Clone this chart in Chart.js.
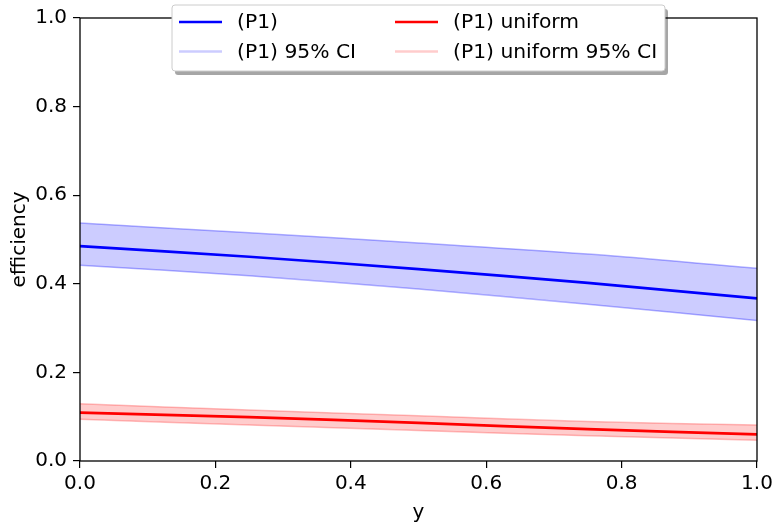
<!DOCTYPE html>
<html>
<head>
<meta charset="utf-8">
<script src="https://cdn.jsdelivr.net/npm/chart.js@4"></script>
<style>
  html, body { margin: 0; padding: 0; background: #fff; }
  #wrap { width: 772px; height: 525px; }
</style>
</head>
<body>
<div id="wrap"><canvas id="effChart"></canvas></div>
<script>
const xValues = [0, 0.25, 0.5, 0.75, 1.0];

const p1Mean  = [0.485, 0.461, 0.433, 0.402, 0.367];
const p1Upper = [0.537, 0.515, 0.492, 0.467, 0.435];
const p1Lower = [0.442, 0.418, 0.388, 0.354, 0.317];

const uniMean  = [0.109, 0.099, 0.086, 0.072, 0.060];
const uniUpper = [0.129, 0.115, 0.102, 0.089, 0.081];
const uniLower = [0.094, 0.081, 0.069, 0.057, 0.047];

const legendLabels = ['(P1)', '(P1) uniform', '(P1) 95% CI', '(P1) uniform 95% CI'];
const FONT = 'DejaVu Sans';
const FSIZE = 20;

function pts(arr) {
    return arr.map((v, i) => ({ x: xValues[i], y: v }));
}

const frameAndText = {
    id: 'frameAndText',
    afterDraw(chart) {
        const c = chart.ctx;
        const a = chart.chartArea;
        c.save();
        // spines
        c.strokeStyle = '#000';
        c.lineWidth = 1.3;
        c.strokeRect(a.left, a.top, a.right - a.left, a.bottom - a.top);

        // axis titles
        c.fillStyle = '#000';
        c.font = FSIZE + 'px "' + FONT + '"';
        c.textAlign = 'center';
        c.textBaseline = 'alphabetic';
        c.fillText('y', (a.left + a.right) / 2, 518);
        c.translate(25, (a.top + a.bottom) / 2);
        c.rotate(-Math.PI / 2);
        c.fillText('efficiency', 0, 0);
        c.restore();

        // legend
        c.save();
        const bx = 172, by = 5, bw = 493, bh = 66;
        c.fillStyle = 'rgba(0,0,0,0.35)';
        c.beginPath();
        c.roundRect(bx + 3, by + 4, bw, bh, 3);
        c.fill();
        c.fillStyle = '#fff';
        c.strokeStyle = '#cccccc';
        c.lineWidth = 1;
        c.beginPath();
        c.roundRect(bx, by, bw, bh, 3);
        c.fill();
        c.stroke();

        const items = [
            { t: legendLabels[0], col: '#0000ff', x: 179, y: 22 },
            { t: legendLabels[1], col: '#ff0000', x: 395, y: 22 },
            { t: legendLabels[2], col: 'rgba(0,0,255,0.2)', x: 179, y: 51.5 },
            { t: legendLabels[3], col: 'rgba(255,0,0,0.2)', x: 395, y: 51.5 }
        ];
        c.font = '20.3px "' + FONT + '"';
        c.textAlign = 'left';
        c.textBaseline = 'middle';
        items.forEach(it => {
            c.strokeStyle = it.col;
            c.lineWidth = 2.7;
            c.beginPath();
            c.moveTo(it.x, it.y);
            c.lineTo(it.x + 43, it.y);
            c.stroke();
            c.fillStyle = '#000';
            c.fillText(it.t, it.x + 58, it.y + 1);
        });
        c.restore();
    }
};

new Chart(document.getElementById('effChart'), {
    type: 'line',
    data: {
        datasets: [
            {
                label: '(P1) 95% CI upper',
                data: pts(p1Upper),
                borderColor: 'rgba(0,0,255,0.3)',
                backgroundColor: 'rgba(0,0,255,0.2)',
                borderWidth: 1.5,
                fill: 1,
                pointRadius: 0,
                tension: 0.4
            },
            {
                label: '(P1) 95% CI lower',
                data: pts(p1Lower),
                borderColor: 'rgba(0,0,255,0.3)',
                borderWidth: 1.5,
                fill: false,
                pointRadius: 0,
                tension: 0.4
            },
            {
                label: '(P1) uniform 95% CI upper',
                data: pts(uniUpper),
                borderColor: 'rgba(255,0,0,0.25)',
                backgroundColor: 'rgba(255,0,0,0.2)',
                borderWidth: 1.5,
                fill: 3,
                pointRadius: 0,
                tension: 0.4
            },
            {
                label: '(P1) uniform 95% CI lower',
                data: pts(uniLower),
                borderColor: 'rgba(255,0,0,0.25)',
                borderWidth: 1.5,
                fill: false,
                pointRadius: 0,
                tension: 0.4
            },
            {
                label: '(P1)',
                data: pts(p1Mean),
                borderColor: '#0000ff',
                borderWidth: 2.7,
                fill: false,
                pointRadius: 0,
                tension: 0.4
            },
            {
                label: '(P1) uniform',
                data: pts(uniMean),
                borderColor: '#ff0000',
                borderWidth: 2.7,
                fill: false,
                pointRadius: 0,
                tension: 0.4
            }
        ]
    },
    options: {
        responsive: true,
        maintainAspectRatio: false,
        animation: false,
        layout: { padding: { left: 0, right: 15, top: 18, bottom: 0 } },
        plugins: {
            legend: { display: false },
            tooltip: { enabled: false }
        },
        scales: {
            x: {
                type: 'linear',
                min: 0,
                max: 1,
                grid: { drawOnChartArea: false, drawTicks: true, tickLength: 7, color: '#000', lineWidth: 1.2 },
                border: { display: false },
                ticks: {
                    stepSize: 0.2,
                    color: '#000',
                    padding: 4,
                    font: { family: FONT, size: FSIZE },
                    maxRotation: 0,
                    callback: v => v.toFixed(1)
                },
                afterFit: s => { s.height = 64; s.paddingLeft = 0; s.paddingRight = 0; }
            },
            y: {
                min: 0,
                max: 1,
                grid: { drawOnChartArea: false, drawTicks: true, tickLength: 7, color: '#000', lineWidth: 1.2 },
                border: { display: false },
                ticks: {
                    stepSize: 0.2,
                    color: '#000',
                    padding: 6,
                    font: { family: FONT, size: FSIZE },
                    callback: v => v.toFixed(1)
                },
                afterFit: s => { s.width = 80; s.paddingTop = 0; s.paddingBottom = 0; }
            }
        }
    },
    plugins: [frameAndText]
});
</script>
</body>
</html>
